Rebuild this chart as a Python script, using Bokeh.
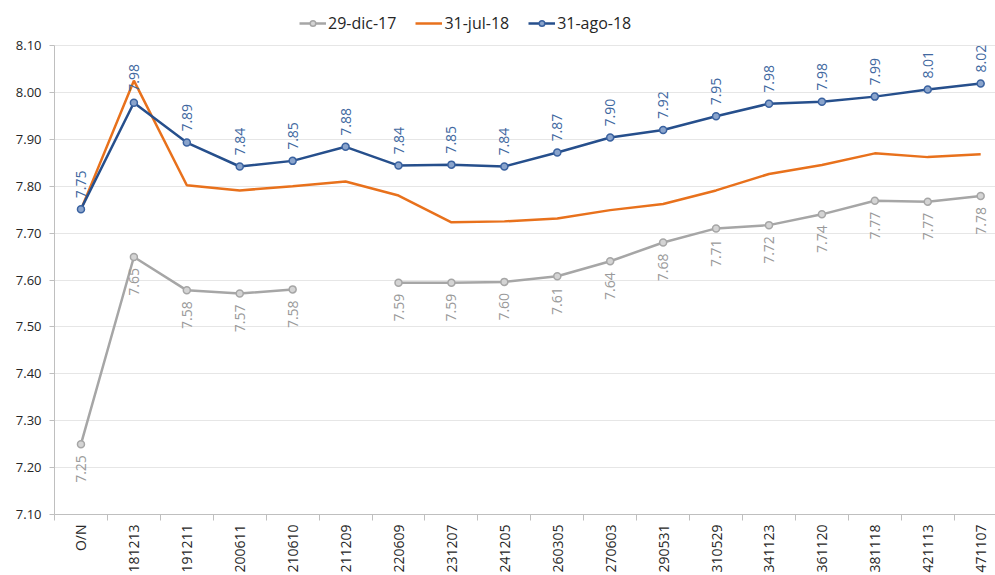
import math
from bokeh.plotting import figure
from bokeh.models import (ColumnDataSource, FixedTicker, Range1d, Legend, LegendItem,
                          NumeralTickFormatter)
from bokeh.core.properties import value
from bokeh.embed import file_html
from bokeh.resources import INLINE

# ---------------- data ----------------
categories = ["O/N", "181213", "191211", "200611", "210610", "211209", "220609",
              "231207", "241205", "260305", "270603", "290531", "310529", "341123",
              "361120", "381118", "421113", "471107"]
series_names = ["29-dic-17", "31-jul-18", "31-ago-18"]
dic17 = [7.250, 7.649, 7.578, 7.571, 7.580, float("nan"), 7.594, 7.594, 7.596, 7.608,
         7.640, 7.680, 7.710, 7.717, 7.740, 7.769, 7.767, 7.779]
jul18 = [7.750, 8.025, 7.802, 7.791, 7.800, 7.810, 7.780, 7.723, 7.725, 7.731,
         7.749, 7.762, 7.791, 7.826, 7.845, 7.870, 7.862, 7.868]
ago18 = [7.751, 7.978, 7.893, 7.842, 7.854, 7.884, 7.844, 7.846, 7.842, 7.872,
         7.904, 7.920, 7.949, 7.976, 7.980, 7.991, 8.006, 8.019]
y_ticks = [7.10, 7.20, 7.30, 7.40, 7.50, 7.60, 7.70, 7.80, 7.90, 8.00, 8.10]

FONT = "Open Sans"
GRAY = "#a6a6a6"
ORANGE = "#e8711c"
BLUE = "#264f8c"

xs = list(range(len(categories)))

# frame extends above 8.10 so the legend can sit inside it (headroom of 45px)
FRAME_H = 514
Y_MIN, Y_MAX = 7.10, 8.10
y_top = Y_MIN + (Y_MAX - Y_MIN) * FRAME_H / 469.0

p = figure(frame_width=941, frame_height=FRAME_H,
           min_border_left=54, min_border_right=0, min_border_top=0, min_border_bottom=61,
           x_range=Range1d(-0.5, 17.28), y_range=Range1d(Y_MIN, y_top),
           output_backend="svg", toolbar_location=None)
p.outline_line_color = None
p.background_fill_color = "white"

# axes
p.xaxis.ticker = FixedTicker(ticks=xs, minor_ticks=[i - 0.5 for i in range(len(categories) + 1)])
p.xaxis.major_label_overrides = {i: c for i, c in enumerate(categories)}
p.xaxis.major_label_orientation = math.pi / 2
p.xaxis.major_tick_out = 0
p.xaxis.major_tick_in = 0
p.xaxis.minor_tick_out = 6
p.xaxis.minor_tick_in = 0
p.xaxis.minor_tick_line_color = "#bfbfbf"
p.xaxis.axis_line_color = "#bfbfbf"
p.xaxis.major_label_text_font = FONT
p.xaxis.major_label_text_font_size = "14px"
p.xaxis.major_label_text_color = "#262626"
p.xaxis.major_label_standoff = 4

p.yaxis.ticker = FixedTicker(ticks=y_ticks)
p.yaxis.bounds = (Y_MIN, Y_MAX)
p.yaxis.formatter = NumeralTickFormatter(format="0.00")
p.yaxis.axis_line_color = "#bfbfbf"
p.yaxis.major_tick_line_color = "#bfbfbf"
p.yaxis.major_tick_out = 5
p.yaxis.major_tick_in = 0
p.yaxis.minor_tick_line_color = None
p.yaxis.major_label_text_font = FONT
p.yaxis.major_label_text_font_size = "13px"
p.yaxis.major_label_text_color = "#262626"
p.yaxis.major_label_standoff = 8

p.xgrid.visible = False
p.ygrid.grid_line_color = "#e6e6e6"
p.ygrid.grid_line_width = 1

# series
src_g = ColumnDataSource(dict(x=xs, y=dic17))
src_o = ColumnDataSource(dict(x=xs, y=jul18))
src_b = ColumnDataSource(dict(x=xs, y=ago18))

lg = p.line("x", "y", source=src_g, line_color=GRAY, line_width=2.5)
sg = p.scatter("x", "y", source=src_g, size=7, fill_color="#d4d4d4", line_color=GRAY, line_width=1.5)
lo = p.line("x", "y", source=src_o, line_color=ORANGE, line_width=2.5)
lb = p.line("x", "y", source=src_b, line_color=BLUE, line_width=2.5)
sb = p.scatter("x", "y", source=src_b, size=7, fill_color="#8aa4cc", line_color="#3a62a0", line_width=1.5)

# data labels
gx = [x for x, v in zip(xs, dic17) if v == v]
gy = [v for v in dic17 if v == v]
lab_g = ColumnDataSource(dict(x=gx, y=gy, t=[f"{v:.2f}" for v in gy]))
lab_b = ColumnDataSource(dict(x=xs, y=ago18, t=[f"{v:.2f}" for v in ago18]))

p.text("x", "y", text="t", source=lab_g, angle=math.pi / 2, text_align="right",
       text_baseline="middle", x_offset=0, y_offset=11, text_font=value(FONT),
       text_font_size="14px", text_color="#9a9a9a")
p.text("x", "y", text="t", source=lab_b, angle=math.pi / 2, text_align="left",
       text_baseline="middle", x_offset=0, y_offset=-11, text_font=value(FONT),
       text_font_size="14px", text_color="#41689f")

legend = Legend(items=[LegendItem(label=series_names[0], renderers=[lg, sg]),
                       LegendItem(label=series_names[1], renderers=[lo]),
                       LegendItem(label=series_names[2], renderers=[lb, sb])],
                orientation="horizontal", location=(245, 480),
                label_text_font=FONT, label_text_font_size="16px", label_text_color="#262626",
                glyph_width=27, glyph_height=14, spacing=19, padding=4, margin=0,
                label_standoff=2, border_line_color=None, background_fill_alpha=0)
p.add_layout(legend, "center")

open("out.html", "w").write(file_html(p, INLINE))
